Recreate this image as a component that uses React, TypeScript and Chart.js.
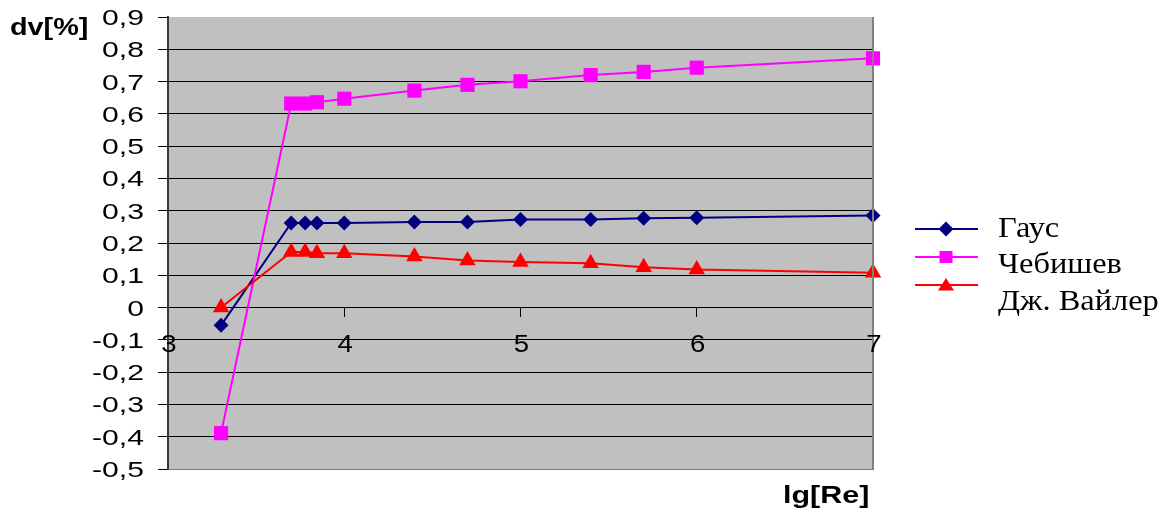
import React, { useEffect, useRef } from 'react';
import { Chart, registerables } from 'chart.js';

Chart.register(...registerables);

// ---- data ----
const lgRe = [3.301, 3.699, 3.778, 3.845, 4.0, 4.398, 4.699, 5.0, 5.398, 5.699, 6.0, 7.0];
const gauss = [-0.055, 0.262, 0.262, 0.262, 0.262, 0.265, 0.265, 0.273, 0.273, 0.277, 0.278, 0.285];
const chebyshev = [-0.389, 0.632, 0.632, 0.636, 0.647, 0.672, 0.69, 0.701, 0.72, 0.73, 0.743, 0.772];
const weiler = [0.0, 0.172, 0.172, 0.168, 0.168, 0.158, 0.146, 0.141, 0.137, 0.125, 0.118, 0.108];

const seriesNames = ['Гаус', 'Чебишев', 'Дж. Вайлер'];
const seriesColors = ['#000080', '#FF00FF', '#FF0000'];
const seriesMarkers = ['rectRot', 'rect', 'triangle'];

const yMin = -0.5;
const yMax = 0.9;
const yStep = 0.1;
const xMin = 3;
const xMax = 7;
const xStep = 1;

const yTitle = 'dv[%]';
const xTitle = 'lg[Re]';

const fmtY = (v: number) => {
  const r = Math.round(v * 10) / 10;
  if (Math.abs(r) < 1e-9) return '0';
  return r.toFixed(1).replace('.', ',');
};

function stretchText(ctx: CanvasRenderingContext2D, text: string, x: number, y: number, sx: number) {
  ctx.save();
  ctx.translate(x, y);
  ctx.scale(sx, 1);
  ctx.fillText(text, 0, 0);
  ctx.restore();
}

function drawMarker(ctx: CanvasRenderingContext2D, style: string, x: number, y: number, color: string) {
  ctx.save();
  ctx.fillStyle = color;
  ctx.beginPath();
  if (style === 'rectRot') {
    const r = 7.5;
    ctx.moveTo(x - r, y);
    ctx.lineTo(x, y - r);
    ctx.lineTo(x + r, y);
    ctx.lineTo(x, y + r);
  } else if (style === 'rect') {
    ctx.rect(x - 6.5, y - 6, 13, 12);
  } else {
    ctx.moveTo(x, y - 7);
    ctx.lineTo(x + 8, y + 5.5);
    ctx.lineTo(x - 8, y + 5.5);
  }
  ctx.closePath();
  ctx.fill();
  ctx.restore();
}

const excelLook = {
  id: 'excelLook',
  beforeDraw(chart: any) {
    const { ctx, chartArea: a } = chart;
    ctx.save();
    ctx.fillStyle = '#C0C0C0';
    ctx.fillRect(a.left, a.top, a.right - a.left, a.bottom - a.top);
    ctx.restore();
  },
  afterDraw(chart: any) {
    const ctx: CanvasRenderingContext2D = chart.ctx;
    const a = chart.chartArea;
    const ys = chart.scales.y;
    const xs = chart.scales.x;

    // right plot border
    ctx.save();
    ctx.strokeStyle = '#808080';
    ctx.lineWidth = 2;
    ctx.beginPath();
    ctx.moveTo(a.right, a.top);
    ctx.lineTo(a.right, a.bottom + 1);
    ctx.stroke();
    ctx.restore();

    ctx.save();
    ctx.fillStyle = '#000';

    // y tick labels
    ctx.font = '22px "Liberation Sans", Arial, sans-serif';
    ctx.textAlign = 'right';
    ctx.textBaseline = 'alphabetic';
    ys.ticks.forEach((t: any) => {
      const py = ys.getPixelForValue(t.value);
      stretchText(ctx, fmtY(t.value), a.left - 24, py + 8, 1.37);
    });

    // x tick labels (below the zero line)
    const y0 = ys.getPixelForValue(0);
    ctx.font = '23px "Liberation Sans", Arial, sans-serif';
    ctx.textAlign = 'center';
    xs.ticks.forEach((t: any) => {
      const px = xs.getPixelForValue(t.value);
      stretchText(ctx, String(t.value), px + 1, y0 + 44, 1.2);
    });

    // axis titles
    ctx.textAlign = 'left';
    ctx.font = 'bold 24px "Liberation Sans", Arial, sans-serif';
    stretchText(ctx, yTitle, 10, 35, 1.2);
    stretchText(ctx, xTitle, 783, 503, 1.27);

    // legend
    const rowsY = [229, 257, 285];
    const textY = [237, 273, 310];
    ctx.font = '30px "Liberation Serif", "Times New Roman", serif';
    chart.data.datasets.forEach((ds: any, i: number) => {
      const y = rowsY[i];
      ctx.save();
      ctx.strokeStyle = ds.borderColor;
      ctx.lineWidth = 2;
      ctx.beginPath();
      ctx.moveTo(915, y);
      ctx.lineTo(978, y);
      ctx.stroke();
      ctx.restore();
      drawMarker(ctx, ds.pointStyle, 946, y, ds.borderColor);
      ctx.fillStyle = '#000';
      stretchText(ctx, ds.label, 998, textY[i], 1.08);
    });
    ctx.restore();
  },
};

export default function App() {
  const canvasRef = useRef<HTMLCanvasElement | null>(null);

  useEffect(() => {
    if (!canvasRef.current) return;
    const series = [gauss, chebyshev, weiler];
    const radii = [7.5, 10, 9.5];
    const datasets = series.map((vals, i) => ({
      label: seriesNames[i],
      data: vals.map((v, k) => ({ x: lgRe[k], y: v })),
      borderColor: seriesColors[i],
      backgroundColor: seriesColors[i],
      pointBackgroundColor: seriesColors[i],
      pointBorderColor: seriesColors[i],
      pointStyle: seriesMarkers[i],
      pointRadius: radii[i],
      pointBorderWidth: 0,
      borderWidth: 2,
      tension: 0,
      fill: false,
      showLine: true,
      clip: false,
      order: 3 - i,
    }));

    const chart = new Chart(canvasRef.current, {
      type: 'line',
      data: { datasets },
      plugins: [excelLook],
      options: {
        animation: false,
        responsive: true,
        maintainAspectRatio: false,
        devicePixelRatio: 1,
        layout: { padding: { left: 0, top: 17, right: 293, bottom: 43 } },
        plugins: { legend: { display: false }, tooltip: { enabled: false } },
        scales: {
          x: {
            type: 'linear',
            min: xMin,
            max: xMax,
            position: { y: 0 } as any,
            ticks: { stepSize: xStep, display: false },
            grid: { drawOnChartArea: false, drawTicks: true, tickLength: 9, tickColor: '#000' },
            border: { color: '#000', width: 1 },
          },
          y: {
            type: 'linear',
            min: yMin,
            max: yMax,
            ticks: { stepSize: yStep, display: false },
            grid: {
              color: (c: any) => {
                const v = c.tick ? c.tick.value : 0;
                if (Math.abs(v - yMax) < 1e-6) return 'rgba(0,0,0,0)';
                if (Math.abs(v - yMin) < 1e-6) return '#808080';
                return '#000';
              },
              tickColor: '#000',
              tickLength: 10,
              lineWidth: 1,
            },
            border: { color: '#3a3a3a', width: 2 },
            afterFit: (s: any) => {
              s.width = 168;
            },
          },
        },
      } as any,
    });
    return () => chart.destroy();
  }, []);

  return (
    <div style={{ position: 'absolute', left: 0, top: 0, width: 1166, height: 512 }}>
      <canvas ref={canvasRef} />
    </div>
  );
}
